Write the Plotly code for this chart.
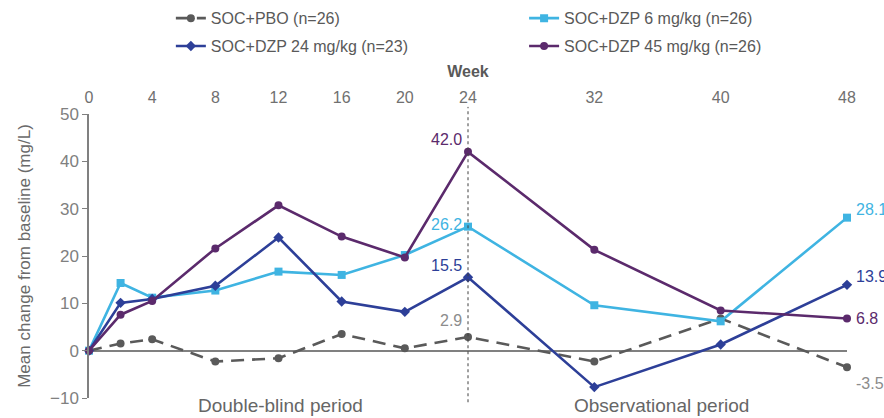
import plotly.graph_objects as go

# Visit weeks and mean change from baseline (mg/L) per arm
weeks = [0, 2, 4, 8, 12, 16, 20, 24, 32, 40, 48]
pbo = [0, 1.5, 2.4, -2.3, -1.6, 3.5, 0.5, 2.9, -2.3, 6.8, -3.5]
dzp6 = [0, 14.3, 11.2, 12.7, 16.7, 16.0, 20.2, 26.2, 9.6, 6.2, 28.1]
dzp24 = [0, 10.1, 10.9, 13.7, 23.9, 10.4, 8.2, 15.5, -7.7, 1.3, 13.9]
dzp45 = [0, 7.6, 10.5, 21.6, 30.7, 24.1, 19.7, 42.0, 21.3, 8.5, 6.8]

week_ticks = [0, 4, 8, 12, 16, 20, 24, 32, 40, 48]
y_ticks = [-10, 0, 10, 20, 30, 40, 50]

# name, values, colour, marker, dash, label colour, legend column
series = [
    ("SOC+PBO (n=26)", pbo, "#5a5a5a", "circle", "13px,8px", "#8c8c8c", "legend"),
    ("SOC+DZP 6 mg/kg (n=26)", dzp6, "#3fb4e2", "square", "solid", "#3fb4e2", "legend2"),
    ("SOC+DZP 24 mg/kg (n=23)", dzp24, "#2d3f98", "diamond", "solid", "#2d3f98", "legend"),
    ("SOC+DZP 45 mg/kg (n=26)", dzp45, "#5b2a6c", "circle", "solid", "#5b2a6c", "legend2"),
]

FONT = "Liberation Sans, Arial, sans-serif"

fig = go.Figure()
for name, vals, color, symbol, dash, _, leg in series:
    fig.add_trace(go.Scatter(
        x=weeks, y=vals, name=name, mode="lines+markers",
        legend=leg, legendgroup=name,
        line=dict(color=color, width=2.6, dash=dash),
        marker=dict(color=color, symbol=symbol, size=8),
        cliponaxis=False,
    ))

# Value labels at week 24 (left of the reference line) and week 48 (right end)
i24 = weeks.index(24)
i48 = weeks.index(48)
shift24 = [16, 2, 12, 12]
shift48 = [-16, 8, 8, 0]
for (name, vals, color, symbol, dash, lab_color, leg), s24, s48 in zip(series, shift24, shift48):
    fig.add_annotation(x=24, y=vals[i24], xref="x", yref="y", text=f"{vals[i24]:.1f}",
                       showarrow=False, xanchor="right", yanchor="middle",
                       xshift=-4, yshift=s24,
                       font=dict(family=FONT, size=16, color=lab_color))
    fig.add_annotation(x=48, y=vals[i48], xref="x", yref="y", text=f"{vals[i48]:.1f}",
                       showarrow=False, xanchor="left", yanchor="middle",
                       xshift=7, yshift=s48,
                       font=dict(family=FONT, size=16, color=lab_color))

# Boundary between the double-blind and observational periods
fig.add_shape(type="line", xref="x", yref="paper", x0=24, x1=24, y0=-0.015, y1=1.025,
              line=dict(color="#404040", width=1, dash="3px,3px"))

fig.add_annotation(x=0.252, y=-0.026, xref="paper", yref="paper", text="Double-blind period",
                   showarrow=False, xanchor="center", yanchor="middle",
                   font=dict(family=FONT, size=19, color="#666666"))
fig.add_annotation(x=0.755, y=-0.026, xref="paper", yref="paper", text="Observational period",
                   showarrow=False, xanchor="center", yanchor="middle",
                   font=dict(family=FONT, size=19, color="#666666"))

legend_style = dict(orientation="v", yref="container", y=0.997, yanchor="top",
                    xanchor="left", tracegroupgap=4,
                    font=dict(family=FONT, size=16, color="#595959"),
                    bgcolor="rgba(0,0,0,0)")

fig.update_layout(
    width=884, height=418,
    margin=dict(l=89, r=37, t=114, b=20, autoexpand=False),
    paper_bgcolor="white", plot_bgcolor="white",
    font=dict(family=FONT, color="#595959"),
    showlegend=True,
    legend=dict(x=0.108, **legend_style),
    legend2=dict(x=0.574, **legend_style),
    xaxis=dict(range=[0, 48], side="top", tickvals=week_ticks,
               ticktext=[str(w) for w in week_ticks], automargin=False,
               showgrid=False, showline=False, zeroline=False,
               ticks="outside", ticklen=4, tickcolor="rgba(0,0,0,0)",
               tickfont=dict(family=FONT, size=16, color="#707070"),
               title=dict(text="<b>Week</b>", standoff=8,
                          font=dict(family=FONT, size=16, color="#595959"))),
    yaxis=dict(range=[-10, 50], tickvals=y_ticks, showgrid=False, automargin=False,
               showline=True, linecolor="#808080", linewidth=1.5,
               ticks="outside", ticklen=5, tickcolor="#808080",
               zeroline=True, zerolinecolor="#808080", zerolinewidth=1.5,
               tickfont=dict(family=FONT, size=17, color="#808080"),
               title=dict(text="Mean change from baseline (mg/L)", standoff=15,
                          font=dict(family=FONT, size=17, color="#6a6a6a"))),
)

fig.write_html("out.html")
